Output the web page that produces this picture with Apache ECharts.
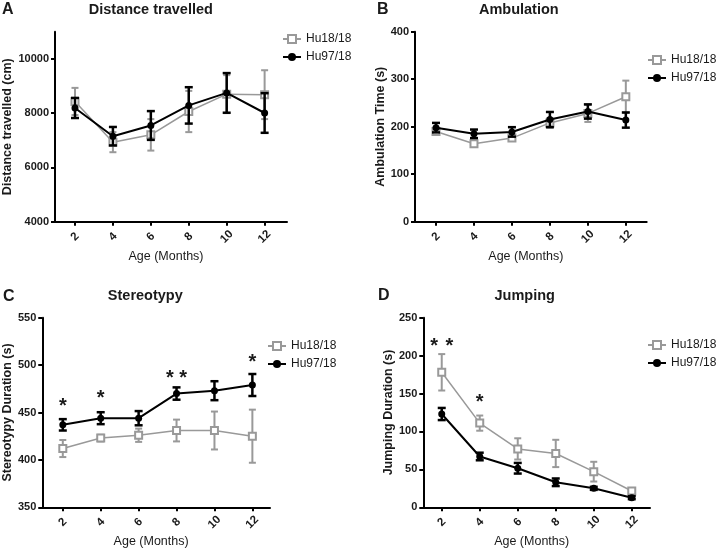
<!DOCTYPE html>
<html>
<head>
<meta charset="utf-8">
<script src="https://cdn.jsdelivr.net/npm/echarts@6/dist/echarts.min.js"></script>
<style>html,body{margin:0;padding:0;background:#fff}#c{width:720px;height:551px}</style>
</head>
<body>
<div id="c"></div>
<script>
// ---- data ----
var months = [2, 4, 6, 8, 10, 12];
var monthTicks = [2, 4, 6, 8, 10, 12];
var seriesNames = ['Hu18/18', 'Hu97/18'];

var distHu18 = [8430, 6930, 7200, 8060, 8700, 8680];
var distHu18Err = [500, 370, 580, 760, 700, 900];
var distHu97 = [8190, 7150, 7545, 8285, 8745, 8005];
var distHu97Err = [370, 340, 530, 670, 730, 730];
var distTicks = [4000, 6000, 8000, 10000];

var ambHu18 = [190, 164, 176, 208, 228, 263];
var ambHu18Err = [7, 6, 6, 10, 18, 34];
var ambHu97 = [198, 185, 189, 215, 232, 214];
var ambHu97Err = [10, 9, 10, 16, 15, 16];
var ambTicks = [0, 100, 200, 300, 400];

var stereoHu18 = [412, 423, 426, 431, 431, 425];
var stereoHu18Err = [9, 3.5, 7, 11.5, 20, 28];
var stereoHu97 = [437, 444, 444, 470, 473, 479];
var stereoHu97Err = [6, 6.3, 7.5, 6.5, 10, 11.6];
var stereoTicks = [350, 400, 450, 500, 550];
var stereoStarX = [2, 4, 7.65, 8.35, 12];
var stereoStarY = [461, 468.5, 490.6, 490.6, 507];

var jumpHu18 = [178, 111, 77, 71, 47, 21.5];
var jumpHu18Err = [24, 10, 14, 18, 13, 4];
var jumpHu97 = [123, 67, 51.5, 33, 25, 12.7];
var jumpHu97Err = [8, 5, 7, 5, 2, 2];
var jumpTicks = [0, 50, 100, 150, 200, 250];
var jumpStarX = [1.6, 2.4, 4];
var jumpStarY = [217.7, 217.7, 143.8];

// ---- styling ----
var FONT = "'Liberation Sans', Arial, sans-serif";
var TXT = '#1a1a1a';
var GRAY = '#999999';
var BLACK = '#000000';

var chart = echarts.init(document.getElementById('c'), null, {renderer: 'canvas'});

var panels = [
  {grid: {left: 55, top: 31.7, width: 232, height: 190}, xmin: 0.946, xmax: 13.18, ymin: 4000, ymax: 11000, yticks: distTicks,
   yname: 'Distance travelled (cm)', nameGap: 37, a: distHu18, ae: distHu18Err, b: distHu97, be: distHu97Err, legend: {left: 282, top: 33}},
  {grid: {left: 415, top: 31.7, width: 231.7, height: 190}, xmin: 0.893, xmax: 13.1, ymin: 0, ymax: 400, yticks: ambTicks,
   yname: 'Ambulation Time (s)', nameGap: 26, a: ambHu18, ae: ambHu18Err, b: ambHu97, be: ambHu97Err, legend: {left: 647, top: 54}},
  {grid: {left: 41.7, top: 317.7, width: 228.3, height: 189.6}, xmin: 0.916, xmax: 12.93, ymin: 350, ymax: 550, yticks: stereoTicks,
   yname: 'Stereotypy Duration (s)', nameGap: 26, a: stereoHu18, ae: stereoHu18Err, b: stereoHu97, be: stereoHu97Err, legend: {left: 267, top: 340},
   starX: stereoStarX, starY: stereoStarY},
  {grid: {left: 423.3, top: 317.7, width: 226.7, height: 189.6}, xmin: 1.03, xmax: 12.96, ymin: 0, ymax: 250, yticks: jumpTicks,
   yname: 'Jumping Duration (s)', nameGap: 27, a: jumpHu18, ae: jumpHu18Err, b: jumpHu97, be: jumpHu97Err, legend: {left: 647, top: 339},
   starX: jumpStarX, starY: jumpStarY}
];

function errRender(color, capW, lw) {
  return function (params, api) {
    var x = api.value(0), y = api.value(1), e = api.value(2);
    var hi = api.coord([x, y + e]);
    var lo = api.coord([x, y - e]);
    var st = {stroke: color, lineWidth: lw};
    return {type: 'group', children: [
      {type: 'line', shape: {x1: hi[0], y1: hi[1], x2: lo[0], y2: lo[1]}, style: st},
      {type: 'line', shape: {x1: hi[0] - capW / 2, y1: hi[1], x2: hi[0] + capW / 2, y2: hi[1]}, style: st},
      {type: 'line', shape: {x1: lo[0] - capW / 2, y1: lo[1], x2: lo[0] + capW / 2, y2: lo[1]}, style: st}
    ]};
  };
}

function starRender(params, api) {
  var p = api.coord([api.value(0), api.value(1)]);
  return {type: 'text', x: p[0], y: p[1] + 4, style: {text: '*', fill: TXT, font: 'bold 20px ' + FONT, textAlign: 'center', textVerticalAlign: 'middle'}};
}

var grids = [], xAxes = [], yAxes = [], series = [], legends = [];
panels.forEach(function (p, i) {
  grids.push(p.grid);
  xAxes.push({
    type: 'value', gridIndex: i, min: p.xmin, max: p.xmax,
    name: 'Age (Months)', nameLocation: 'middle', nameGap: 28,
    nameTextStyle: {fontFamily: FONT, fontSize: 12.5, color: TXT, padding: [0, 10, 0, 0]},
    axisLine: {show: true, lineStyle: {color: BLACK, width: 2}},
    axisTick: {show: true, length: 4, lineStyle: {color: BLACK, width: 2}, customValues: monthTicks},
    axisLabel: {show: true, customValues: monthTicks, rotate: 45, align: 'center', verticalAlign: 'middle', margin: 15,
      fontFamily: FONT, fontSize: 11.5, fontWeight: 'bold', color: TXT, formatter: function (v) { return String(v); }},
    splitLine: {show: false}
  });
  yAxes.push({
    type: 'value', gridIndex: i, min: p.ymin, max: p.ymax,
    name: p.yname, nameLocation: 'middle', nameGap: p.nameGap,
    nameTextStyle: {fontFamily: FONT, fontSize: 12.5, fontWeight: 'bold', color: TXT},
    axisLine: {show: true, lineStyle: {color: BLACK, width: 2}},
    axisTick: {show: true, length: 4, lineStyle: {color: BLACK, width: 2}, customValues: p.yticks},
    axisLabel: {show: true, customValues: p.yticks, margin: 6, fontFamily: FONT, fontSize: 11, fontWeight: 'bold', color: TXT,
      formatter: function (v) { return String(v); }},
    splitLine: {show: false}
  });
  var mk = function (vals, errs) { return months.map(function (m, k) { return [m, vals[k], errs[k]]; }); };
  var mkLine = function (vals) { return months.map(function (m, k) { return [m, vals[k]]; }); };
  series.push({type: 'custom', xAxisIndex: i, yAxisIndex: i, renderItem: errRender(GRAY, 7, 2), data: mk(p.a, p.ae), z: 2, silent: true, encode: {x: 0, y: 1}});
  series.push({type: 'line', name: seriesNames[0], xAxisIndex: i, yAxisIndex: i, data: mkLine(p.a), z: 3,
    symbol: 'emptyRect', symbolSize: 7, showAllSymbol: true,
    lineStyle: {color: GRAY, width: 1.5}, itemStyle: {color: GRAY, borderWidth: 1.5}, animation: false});
  series.push({type: 'custom', xAxisIndex: i, yAxisIndex: i, renderItem: errRender(BLACK, 8, 2.5), data: mk(p.b, p.be), z: 4, silent: true, encode: {x: 0, y: 1}});
  series.push({type: 'line', name: seriesNames[1], xAxisIndex: i, yAxisIndex: i, data: mkLine(p.b), z: 5,
    symbol: 'circle', symbolSize: 7, showAllSymbol: true,
    lineStyle: {color: BLACK, width: 2}, itemStyle: {color: BLACK}, animation: false});
  if (p.starX) {
    series.push({type: 'custom', xAxisIndex: i, yAxisIndex: i, renderItem: starRender,
      data: p.starX.map(function (x, k) { return [x, p.starY[k]]; }), z: 6, silent: true, encode: {x: 0, y: 1}});
  }
  legends.push({
    data: seriesNames, orient: 'vertical', left: p.legend.left, top: p.legend.top, padding: 0,
    itemWidth: 18, itemHeight: 10, itemGap: 6, selectedMode: false,
    textStyle: {fontFamily: FONT, fontSize: 12, color: TXT}
  });
});

function label(x, y, text, size, align) {
  return {type: 'text', x: x, y: y, style: {text: text, fill: TXT, font: 'bold ' + size + 'px ' + FONT, textAlign: align, textVerticalAlign: 'middle'}};
}

chart.setOption({
  animation: false,
  backgroundColor: '#fff',
  grid: grids,
  xAxis: xAxes,
  yAxis: yAxes,
  legend: legends,
  series: series,
  graphic: [
    label(2, 9.5, 'A', 16, 'left'),
    label(150.8, 9.5, 'Distance travelled', 14.5, 'center'),
    label(377, 9.5, 'B', 16, 'left'),
    label(518.8, 9.5, 'Ambulation', 14.5, 'center'),
    label(3, 296.5, 'C', 16, 'left'),
    label(145.3, 296, 'Stereotypy', 14.5, 'center'),
    label(378, 295.5, 'D', 16, 'left'),
    label(524.7, 296, 'Jumping', 14.5, 'center')
  ]
});
</script>
</body>
</html>
